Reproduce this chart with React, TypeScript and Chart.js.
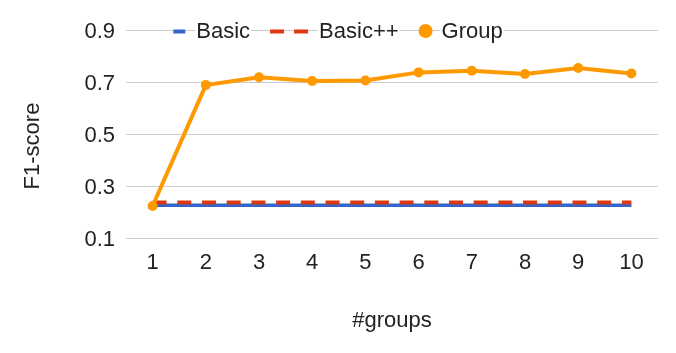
import React, { useEffect, useRef } from "react";
import { Chart, registerables } from "chart.js";

Chart.register(...registerables);

// ---- data ----
const categories = ["1", "2", "3", "4", "5", "6", "7", "8", "9", "10"];
const basicValues = [0.226, 0.226, 0.226, 0.226, 0.226, 0.226, 0.226, 0.226, 0.226, 0.226];
const basicPlusValues = [0.237, 0.237, 0.237, 0.237, 0.237, 0.237, 0.237, 0.237, 0.237, 0.237];
const groupValues = [0.223, 0.688, 0.718, 0.704, 0.706, 0.737, 0.743, 0.731, 0.754, 0.733];
const yTickValues = [0.1, 0.3, 0.5, 0.7, 0.9];
const seriesNames = ["Basic", "Basic++", "Group"];
const xTitle = "#groups";
const yTitle = "F1-score";

// ---- style ----
const BLUE = "#3366CC";
const RED = "#DC3912";
const ORANGE = "#FF9900";
const GRID = "#cccccc";
const TEXT = "#222222";
const FAMILY = '"Liberation Sans", Arial, Helvetica, sans-serif';
const FONT_SIZE = 22;

const legendPlugin = {
  id: "customLegend",
  afterDraw(chart: any) {
    const ctx = chart.ctx as CanvasRenderingContext2D;
    const yScale = chart.scales.y;
    const y = yScale.getPixelForValue(yTickValues[yTickValues.length - 1]);
    ctx.save();
    ctx.font = `${FONT_SIZE}px ${FAMILY}`;
    const items = [
      { label: seriesNames[0], type: "line", w: 12, gap: 11, color: BLUE },
      { label: seriesNames[1], type: "dash", w: 38, gap: 11, color: RED },
      { label: seriesNames[2], type: "dot", w: 14, gap: 9, color: ORANGE },
    ];
    const itemGap = 20;
    let total = 0;
    items.forEach((it, i) => {
      total += it.w + it.gap + ctx.measureText(it.label).width;
      if (i < items.length - 1) total += itemGap;
    });
    let x = chart.width / 2 - total / 2;
    const my = y + 1.5;
    for (const it of items) {
      if (it.type === "line") {
        ctx.fillStyle = it.color;
        ctx.fillRect(x, my - 2, it.w, 4);
      } else if (it.type === "dash") {
        ctx.fillStyle = it.color;
        ctx.fillRect(x, my - 2, 14, 4);
        ctx.fillRect(x + 24, my - 2, 14, 4);
      } else {
        ctx.fillStyle = it.color;
        ctx.beginPath();
        ctx.arc(x + it.w / 2, my - 0.5, 7, 0, Math.PI * 2);
        ctx.fill();
      }
      x += it.w + it.gap;
      const tw = ctx.measureText(it.label).width;
      ctx.fillStyle = "#ffffff";
      ctx.fillRect(x - 1, y - 12, tw + 2, 24);
      ctx.fillStyle = TEXT;
      ctx.textAlign = "left";
      ctx.textBaseline = "middle";
      ctx.fillText(it.label, x, y + 1.5);
      x += tw + itemGap;
    }
    ctx.restore();
  },
};

const yTitlePlugin = {
  id: "yTitle",
  afterDraw(chart: any) {
    const ctx = chart.ctx as CanvasRenderingContext2D;
    const area = chart.chartArea;
    ctx.save();
    ctx.font = `${FONT_SIZE}px ${FAMILY}`;
    ctx.fillStyle = TEXT;
    ctx.textAlign = "center";
    ctx.textBaseline = "middle";
    ctx.translate(area.left - 93, (area.top + area.bottom) / 2 + 12);
    ctx.rotate(-Math.PI / 2);
    ctx.fillText(yTitle, 0, 0);
    ctx.restore();
  },
};

export default function App() {
  const canvasRef = useRef<HTMLCanvasElement | null>(null);

  useEffect(() => {
    document.body.style.margin = "0";
    const canvas = canvasRef.current;
    if (!canvas) return;
    const chart = new Chart(canvas, {
      type: "line",
      data: {
        labels: categories,
        datasets: [
          {
            label: seriesNames[0],
            data: basicValues,
            borderColor: BLUE,
            backgroundColor: BLUE,
            borderWidth: 3.5,
            pointRadius: 0,
            pointHoverRadius: 0,
            tension: 0,
            order: 2,
          },
          {
            label: seriesNames[1],
            data: basicPlusValues,
            borderColor: RED,
            backgroundColor: RED,
            borderWidth: 4,
            borderDash: [14, 10.7],
            pointRadius: 0,
            pointHoverRadius: 0,
            tension: 0,
            order: 1,
          },
          {
            label: seriesNames[2],
            data: groupValues,
            borderColor: ORANGE,
            backgroundColor: ORANGE,
            pointBackgroundColor: ORANGE,
            pointBorderColor: ORANGE,
            borderWidth: 4,
            pointRadius: 5,
            pointBorderWidth: 0,
            tension: 0,
            order: 0,
          },
        ],
      },
      options: {
        responsive: false,
        animation: false,
        devicePixelRatio: 1,
        layout: { padding: { top: 30, right: 18, left: 0, bottom: 0 } },
        plugins: {
          legend: { display: false },
          tooltip: { enabled: false },
        },
        scales: {
          x: {
            type: "category",
            offset: true,
            grid: { display: false, drawTicks: false },
            border: { display: false },
            ticks: {
              color: TEXT,
              padding: 12,
              font: { size: FONT_SIZE, family: FAMILY },
              maxRotation: 0,
              autoSkip: false,
            },
            title: {
              display: true,
              text: xTitle,
              color: TEXT,
              font: { size: FONT_SIZE, family: FAMILY },
              padding: { top: 0, bottom: 19 },
            },
            afterFit(scale: any) {
              scale.height = 115;
            },
          },
          y: {
            type: "linear",
            min: yTickValues[0],
            max: yTickValues[yTickValues.length - 1],
            afterBuildTicks(scale: any) {
              scale.ticks = yTickValues.map((v) => ({ value: v }));
            },
            grid: { color: GRID, lineWidth: 1, drawTicks: false },
            border: { display: false },
            ticks: {
              color: TEXT,
              padding: 11,
              labelOffset: 2,
              font: { size: FONT_SIZE, family: FAMILY },
              callback: (v: any) => Number(v).toFixed(1),
            },
            afterFit(scale: any) {
              scale.width = 126;
            },
          },
        },
      },
      plugins: [yTitlePlugin, legendPlugin],
    });
    return () => chart.destroy();
  }, []);

  return (
    <div style={{ width: 676, height: 353, position: "relative" }}>
      <canvas ref={canvasRef} width={676} height={353} style={{ display: "block" }} />
    </div>
  );
}
